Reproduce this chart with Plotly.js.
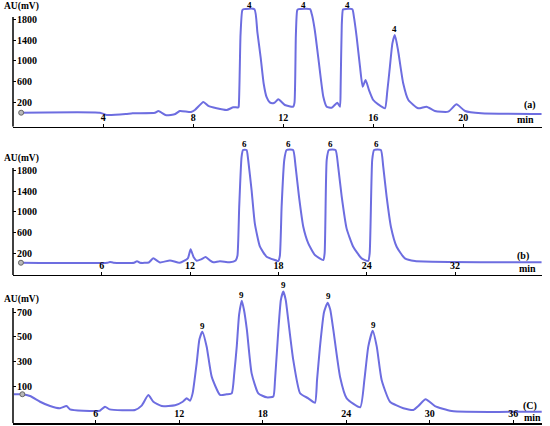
<!DOCTYPE html>
<html>
<head>
<meta charset="utf-8">
<script src="https://cdn.plot.ly/plotly-3.0.1.min.js"></script>
<style>
  html, body { margin: 0; padding: 0; background: #fff; }
  #chart { width: 550px; height: 426px; }
</style>
</head>
<body>
<div id="chart"></div>
<script>
  // (a) chromatogram
  var timeA = [0.35,3.85,4.15,5.0,5.3,6.3,6.45,6.8,7.2,7.4,7.9,8.07,8.45,8.67,9.04,9.48,9.78,10.0,10.02,10.1,10.18,10.25,10.72,10.85,11.0,11.13,11.26,11.4,11.55,11.63,11.78,12.07,12.44,12.5,12.56,12.62,12.68,13.19,13.27,13.4,13.56,13.78,13.93,14.15,14.4,14.52,14.55,14.6,14.65,14.7,15.07,15.14,15.26,15.41,15.53,15.66,15.81,16.0,16.22,16.52,16.62,16.74,16.85,16.96,17.1,17.33,17.56,18.0,18.37,18.74,19.33,19.7,20.08,20.8,23.48];
  var valA  = [0,0,-44,-25,-10,0,33,-50,-25,33,14,52,207,130,85,52,104,104,120,1500,1980,2000,2000,1550,1050,560,300,200,185,200,259,149,116,200,1500,1980,2000,2000,1900,1598,1051,309,116,97,193,116,500,1700,1990,2000,2000,1850,1469,889,502,632,438,245,162,85,400,889,1340,1501,1211,568,245,85,116,33,20,162,33,-12,-25];
  var peakTimeA = [10.5, 12.9, 14.86, 16.96];
  var peakLabA  = [2075, 2075, 2075, 1620];

  // (b) chromatogram
  var timeB = [0.52,6.4,6.56,6.8,8.2,8.4,8.6,9.2,9.5,9.96,10.64,11.3,11.85,12.04,12.25,12.45,12.75,13.06,13.35,13.58,14.03,14.7,15.1,15.22,15.34,15.5,15.6,15.84,15.95,16.18,16.4,16.75,17.2,17.77,17.99,18.1,18.22,18.4,18.56,19.0,19.17,19.4,19.69,20.03,20.48,21.05,21.14,21.28,21.43,21.88,22.06,22.3,22.63,23.08,23.65,24.1,24.2,24.37,24.5,24.96,25.12,25.35,25.64,26.03,26.59,27.27,35.87];
  var valB  = [15,15,30,15,15,45,15,20,100,20,60,15,100,275,120,55,80,125,60,25,45,25,60,150,1100,2065,2196,2196,2003,1422,778,325,132,68,48,150,1100,2003,2196,2196,1873,1293,712,390,164,68,200,2003,2196,2196,1873,1293,680,325,100,50,200,2003,2196,2196,1873,1293,712,325,100,50,25];
  var peakTimeB = [15.73, 18.72, 21.55, 24.67];
  var peakLabB  = [2312, 2312, 2312, 2312];

  // (C) chromatogram
  var timeC = [0.13,0.73,1.28,2.0,2.72,3.43,3.9,4.15,5.1,6.3,6.67,7.0,8.82,9.3,9.78,10.14,10.74,11.7,12.25,12.54,12.77,12.96,13.25,13.45,13.66,13.97,14.33,14.93,15.41,15.77,15.95,16.13,16.3,16.49,16.65,16.86,17.2,17.68,18.28,18.76,18.88,19.12,19.3,19.48,19.65,19.83,20.19,20.68,21.27,21.75,21.9,22.11,22.4,22.66,22.85,23.07,23.55,24.03,25.0,25.3,25.58,25.9,26.19,26.54,27.14,28.1,28.82,29.2,29.7,30.37,31.57,38.04];
  var valC  = [33,33,19,-28,-63,-81,-63,-90,-101,-101,-68,-90,-95,-60,27,-28,-63,-57,-28,0,-20,40,285,480,542,420,176,27,33,40,200,420,680,794,720,556,203,40,8,15,149,556,800,868,800,637,312,41,0,-36,150,420,700,778,720,556,176,0,-73,149,420,550,420,149,-28,-81,-95,-60,-8,-63,-103,-109];
  var peakTimeC = [13.66, 16.49, 19.48, 22.71, 25.94];
  var peakLabC  = [591, 841, 922, 833, 597];

  var ticksA = [4, 8, 12, 16, 20];
  var ticksB = [6, 12, 18, 24, 30];
  var tickTextB = ['6', '12', '18', '24', '32'];
  var ticksC = [6, 12, 18, 24, 30, 36];
  var yTicksAB = [200, 600, 1000, 1400, 1800];
  var yTicksC = [100, 300, 500, 700];

  var lineColor = '#6d6de0';
  var boldFont = {family: 'Liberation Serif', size: 10, color: '#000', weight: 'bold'};
  var smallBold = {family: 'Liberation Serif', size: 9, color: '#000', weight: 'bold'};
  var unitFont = {family: 'Liberation Serif', size: 9.5, color: '#000', weight: 'bold'};

  function trace(x, y, n){
    return {x: x, y: y, xaxis: 'x' + n, yaxis: 'y' + n, mode: 'lines',
      line: {color: lineColor, width: 2, shape: 'spline', smoothing: 0.5},
      hoverinfo: 'skip', showlegend: false};
  }
  function startDot(x, y, n){
    return {x: [x], y: [y], xaxis: 'x' + n, yaxis: 'y' + n, mode: 'markers',
      marker: {size: 5, color: '#b8b8b8', line: {color: '#666', width: 1}},
      hoverinfo: 'skip', showlegend: false};
  }

  const chartdata = [
    trace(timeA, valA, ''), startDot(0.35, 0, ''),
    trace(timeB, valB, 2), startDot(0.52, 15, 2),
    trace(timeC, valC, 3), startDot(0.73, 33, 3)
  ];

  function xAxis(range, vals, text){
    return {
      range: range, tickvals: vals, ticktext: text,
      ticks: 'inside', ticklen: 3, tickcolor: '#000', ticklabelposition: 'inside',
      showline: true, linecolor: '#000', linewidth: 1.5,
      showgrid: false, zeroline: false, tickfont: boldFont, fixedrange: true
    };
  }
  function yAxis(range, domain, vals){
    return {
      range: range, domain: domain, tickvals: vals,
      ticks: 'inside', ticklen: 3, tickcolor: '#000', ticklabelposition: 'inside',
      showline: false, showgrid: false, zeroline: false, tickfont: boldFont, fixedrange: true
    };
  }

  var xa = xAxis([-0.013, 23.5], ticksA); xa.anchor = 'y';
  var xb = xAxis([-0.02, 35.9], ticksB, tickTextB); xb.anchor = 'y2';
  var xc = xAxis([0.057, 38.06], ticksC); xc.anchor = 'y3';

  var ya = yAxis([-270, 2177], [0.7026, 1.0], yTicksAB); ya.anchor = 'x';
  var yb = yAxis([-222, 2332], [0.3545, 0.6643], yTicksAB); yb.anchor = 'x2';
  var yc = yAxis([-203.5, 938], [0.0063, 0.3357], yTicksC); yc.anchor = 'x3';

  // Axis lines as shapes so they stop below the clipped peaks
  var shapes = [
    {type: 'line', xref: 'x domain', yref: 'y', x0: 0, x1: 0, y0: -270, y1: 1849, line: {color: '#000', width: 1.5}},
    {type: 'line', xref: 'x2 domain', yref: 'y2', x0: 0, x1: 0, y0: -222, y1: 1848, line: {color: '#000', width: 1.5}},
    {type: 'line', xref: 'x3 domain', yref: 'y3', x0: 0, x1: 0, y0: -203.5, y1: 735, line: {color: '#000', width: 1.5}}
  ];

  var annotations = [];
  function peakLabels(times, vals, txt, n){
    for (let i in times){
      annotations.push({x: times[i], y: vals[i], xref: 'x' + n, yref: 'y' + n,
        text: txt, showarrow: false, borderpad: 0, font: smallBold});
    }
  }
  peakLabels(peakTimeA, peakLabA, '4', '');
  peakLabels(peakTimeB, peakLabB, '6', 2);
  peakLabels(peakTimeC, peakLabC, '9', 3);

  function paperText(px, py, txt, anchor, font, yanchor){
    annotations.push({x: (px - 13) / 529, y: (426 - py) / 426, xref: 'paper', yref: 'paper',
      text: txt, showarrow: false, borderpad: 0, xanchor: anchor || 'center',
      yanchor: yanchor || 'middle', font: font || boldFont});
  }
  paperText(3, 0, 'AU(mV)', 'left', unitFont, 'top');
  paperText(3, 152, 'AU(mV)', 'left', unitFont, 'top');
  paperText(3, 293, 'AU(mV)', 'left', unitFont, 'top');
  paperText(530, 105, '(a)');
  paperText(523, 256, '(b)');
  paperText(530, 406, '(C)');
  paperText(525, 126, 'min', 'center', boldFont, 'bottom');
  paperText(527, 275, 'min', 'center', boldFont, 'bottom');
  paperText(532, 424, 'min', 'center', boldFont, 'bottom');

  const layout = {
    width: 550, height: 426,
    margin: {l: 13, r: 8, t: 0, b: 0},
    paper_bgcolor: '#fff', plot_bgcolor: '#fff',
    xaxis: xa, xaxis2: xb, xaxis3: xc,
    yaxis: ya, yaxis2: yb, yaxis3: yc,
    shapes: shapes, annotations: annotations,
    showlegend: false
  };

  const config = {displayModeBar: false, staticPlot: true};

  Plotly.newPlot('chart', chartdata, layout, config);
</script>
</body>
</html>
